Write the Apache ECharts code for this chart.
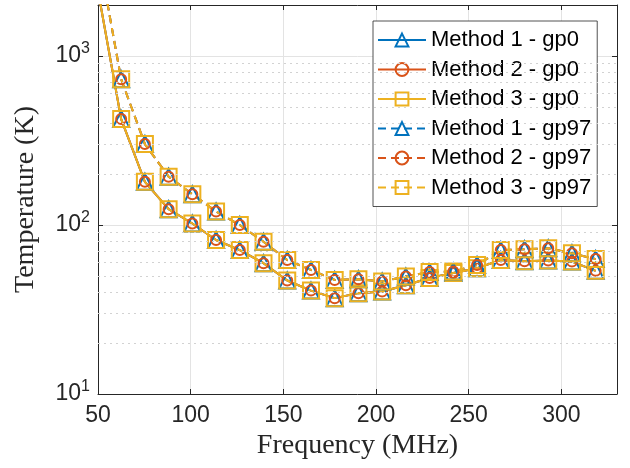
<!DOCTYPE html>
<html>
<head>
<meta charset="utf-8">
<script src="https://cdn.jsdelivr.net/npm/echarts@6/dist/echarts.min.js"></script>
<style>
html,body{margin:0;padding:0;background:#fff;}
#chart{width:630px;height:468px;}
</style>
</head>
<body>
<div id="chart"></div>
<script>
// Frequencies (MHz); first point lies off the top of the plot (no marker)
var freqs = [50, 62.5, 75.3, 88.1, 100.9, 113.7, 126.5, 139.3, 152.1, 164.9, 177.7, 190.5, 203.3, 216.1, 228.9, 241.7, 254.5, 267.3, 280.1, 292.9, 305.7, 318.5];
// Temperatures (K)
var m1gp0  = [2430, 423, 180, 124, 102, 81.5, 71, 59.4, 46.9, 40.9, 36.9, 39.5, 40.4, 44.0, 48.5, 52.0, 55.5, 62.0, 61.0, 61.6, 60.7, 53.5];
var m2gp0  = [2430, 423, 180, 124, 102, 81.5, 71, 59.4, 46.9, 40.9, 36.9, 39.5, 40.4, 44.0, 48.5, 52.0, 55.5, 62.0, 61.0, 61.6, 60.7, 53.5];
var m3gp0  = [2430, 423, 180, 124, 102, 81.5, 71, 59.4, 46.9, 40.9, 36.9, 39.5, 40.4, 44.0, 48.5, 52.0, 55.5, 62.0, 61.0, 61.6, 60.7, 53.5];
var m1gp97 = [4150, 728, 301, 193, 152, 120, 100, 79.6, 62.0, 54.2, 47.3, 47.7, 46.3, 49.5, 52.6, 53.0, 58.0, 71.0, 71.8, 72.8, 68.0, 62.8];
var m2gp97 = [4150, 728, 301, 193, 152, 120, 100, 79.6, 62.0, 54.2, 47.3, 47.7, 46.3, 49.5, 52.6, 53.0, 58.0, 71.0, 71.8, 72.8, 68.0, 62.8];
var m3gp97 = [4150, 728, 301, 193, 152, 120, 100, 79.6, 62.0, 54.2, 47.3, 47.7, 46.3, 49.5, 52.6, 53.0, 58.0, 71.0, 71.8, 72.8, 68.0, 62.8];
var seriesNames = ['Method 1 - gp0', 'Method 2 - gp0', 'Method 3 - gp0', 'Method 1 - gp97', 'Method 2 - gp97', 'Method 3 - gp97'];
var xTicks = [50, 100, 150, 200, 250, 300];
var yMajorTicks = [10, 100, 1000];
var yMinorTicks = [20, 30, 40, 50, 60, 70, 80, 90, 200, 300, 400, 500, 600, 700, 800, 900];

var blue = '#0072BD', red = '#D95319', yellow = '#EDB120';
var axisColor = '#262626';

function pts(vals) {
  return freqs.map(function (f, i) {
    var d = { value: [f, vals[i]] };
    if (i === 0) d.symbol = 'none';
    return d;
  });
}
function mk(name, vals, color, symbol, size, dashed) {
  return {
    name: name,
    type: 'line',
    data: pts(vals),
    symbol: symbol,
    symbolSize: size,
    showAllSymbol: true,
    clip: true,
    animation: false,
    lineStyle: { color: color, width: 2, type: dashed ? [8, 5] : 'solid' },
    itemStyle: { color: 'rgba(255,255,255,0)', borderColor: color, borderWidth: 2 },
    emphasis: { disabled: true }
  };
}

var series = [
  mk(seriesNames[0], m1gp0, blue, 'triangle', 16, false),
  mk(seriesNames[1], m2gp0, red, 'circle', 10, false),
  mk(seriesNames[2], m3gp0, yellow, 'rect', 16, false),
  mk(seriesNames[3], m1gp97, blue, 'triangle', 16, true),
  mk(seriesNames[4], m2gp97, red, 'circle', 10, true),
  mk(seriesNames[5], m3gp97, yellow, 'rect', 16, true)
];
series[0].markLine = {
  silent: true,
  symbol: 'none',
  label: { show: false },
  animation: false,
  lineStyle: { color: '#d2d2d2', width: 1, type: [2, 4] },
  data: yMinorTicks.map(function (v) { return { yAxis: v }; })
};

var chart = echarts.init(document.getElementById('chart'), null, { renderer: 'canvas' });
chart.setOption({
  backgroundColor: '#ffffff',
  animation: false,
  grid: { left: 98, right: 13, top: 5, bottom: 74, containLabel: false },
  legend: {
    data: seriesNames,
    orient: 'vertical',
    left: 373,
    top: 21,
    padding: [8, 6, 8, 4],
    itemWidth: 48,
    itemHeight: 16,
    itemGap: 7.5,
    backgroundColor: '#ffffff',
    borderColor: axisColor,
    borderWidth: 0.8,
    borderRadius: 0,
    textStyle: { fontFamily: 'Liberation Sans', fontSize: 22, color: '#000', lineHeight: 22 },
    selectedMode: false
  },
  xAxis: [{
    type: 'value',
    min: 50,
    max: 330,
    interval: 50,
    axisLine: { lineStyle: { color: axisColor, width: 1 } },
    axisTick: { inside: true, length: 5, lineStyle: { color: axisColor } },
    axisLabel: {
      fontFamily: 'Liberation Sans', fontSize: 23, color: axisColor, margin: 10,
      formatter: function (v) { return xTicks.indexOf(v) >= 0 ? String(v) : ''; }
    },
    splitLine: { show: true, lineStyle: { color: '#e3e3e3', width: 1 } },
    name: 'Frequency (MHz)',
    nameLocation: 'middle',
    nameGap: 31,
    nameTextStyle: { fontFamily: 'Liberation Serif', fontSize: 28, color: axisColor }
  }, {
    type: 'value', position: 'top', min: 50, max: 330, interval: 50,
    axisLine: { show: true, lineStyle: { color: axisColor, width: 1 } },
    axisTick: { inside: true, length: 5, lineStyle: { color: axisColor } },
    axisLabel: { show: false }, splitLine: { show: false }
  }],
  yAxis: [{
    type: 'log',
    logBase: 10,
    min: 10,
    max: 2000,
    axisLine: { show: true, lineStyle: { color: axisColor, width: 1 } },
    axisTick: { inside: true, length: 5, lineStyle: { color: axisColor } },
    axisLabel: {
      margin: 8,
      formatter: function (v) {
        var e = Math.round(Math.log10(v));
        if (Math.abs(Math.pow(10, e) - v) > 1e-6 * v) return '';
        return '{b|10}{s|' + e + '}';
      },
      rich: {
        b: { fontFamily: 'Liberation Sans', fontSize: 23, color: axisColor },
        s: { fontFamily: 'Liberation Sans', fontSize: 16, color: axisColor, padding: [0, 0, 14, 0] }
      }
    },
    splitLine: { show: true, lineStyle: { color: '#e3e3e3', width: 1 } },
    name: 'Temperature (K)',
    nameLocation: 'middle',
    nameGap: 58,
    nameTextStyle: { fontFamily: 'Liberation Serif', fontSize: 28, color: axisColor }
  }, {
    type: 'log', logBase: 10, min: 10, max: 2000, position: 'right',
    axisLine: { show: true, lineStyle: { color: axisColor, width: 1 } },
    axisTick: { inside: true, length: 5, lineStyle: { color: axisColor } },
    axisLabel: { show: false }, splitLine: { show: false }
  }],
  series: series
});
</script>
</body>
</html>
